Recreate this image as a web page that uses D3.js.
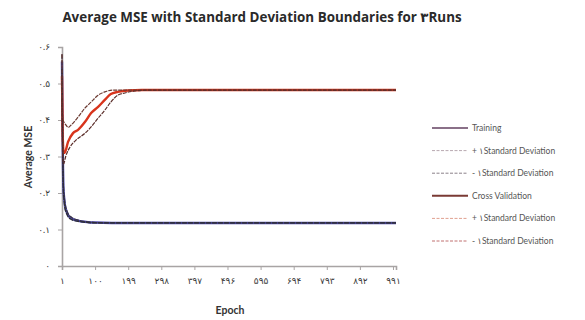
<!DOCTYPE html>
<html>
<head>
<meta charset="utf-8">
<script src="https://cdn.jsdelivr.net/npm/d3@7"></script>
<style>
  html, body { margin: 0; padding: 0; background: #fff; }
  svg { display: block; }
  text { font-family: Lato, "DejaVu Sans", sans-serif; }
</style>
</head>
<body>
<svg id="chart" width="585" height="320"></svg>
<script>
// Average MSE per epoch (mean of 3 runs) with +/- 1 standard deviation bounds
const trainEpochs = [1, 2, 3, 4, 5, 7, 10, 15, 20, 30, 45, 60, 80, 100, 150, 1000];
const trainMean   = [0.56, 0.45, 0.35, 0.27, 0.22, 0.19, 0.165, 0.148, 0.138, 0.13, 0.125, 0.122, 0.12, 0.119, 0.118, 0.118];
const trainPlus   = [0.58, 0.47, 0.37, 0.285, 0.232, 0.198, 0.172, 0.153, 0.142, 0.133, 0.127, 0.123, 0.121, 0.119, 0.118, 0.118];
const trainMinus  = [0.54, 0.43, 0.33, 0.255, 0.208, 0.182, 0.158, 0.143, 0.134, 0.127, 0.123, 0.121, 0.119, 0.118, 0.118, 0.118];

const cvMeanEpochs = [1, 3, 6, 9, 19, 34, 49, 70, 88, 109, 129, 147, 168, 198, 240, 1000];
const cvMean       = [0.52, 0.36, 0.31, 0.31, 0.34, 0.364, 0.373, 0.395, 0.419, 0.436, 0.455, 0.471, 0.477, 0.481, 0.482, 0.482];
const cvPlusEpochs = [1, 2, 4, 10, 20, 28, 49, 70, 88, 109, 129, 153, 190, 1000];
const cvPlus       = [0.58, 0.42, 0.40, 0.39, 0.38, 0.386, 0.408, 0.433, 0.449, 0.468, 0.477, 0.482, 0.482, 0.482];
const cvMinusEpochs = [1, 3, 6, 12, 25, 43, 70, 88, 109, 129, 147, 168, 189, 215, 260, 1000];
const cvMinus       = [0.46, 0.30, 0.28, 0.30, 0.326, 0.345, 0.364, 0.381, 0.405, 0.427, 0.449, 0.468, 0.474, 0.479, 0.482, 0.482];

const xTickValues = [1, 100, 199, 298, 397, 496, 595, 694, 793, 892, 991];
const xTickLabels = ["۱", "۱۰۰", "۱۹۹", "۲۹۸", "۳۹۷", "۴۹۶", "۵۹۵", "۶۹۴", "۷۹۳", "۸۹۲", "۹۹۱"];
const yTickValues = [0, 0.1, 0.2, 0.3, 0.4, 0.5, 0.6];
const yTickLabels = ["۰", "۰.۱", "۰.۲", "۰.۳", "۰.۴", "۰.۵", "۰.۶"];

const seriesNames = ["Training", "+ ۱Standard Deviation", "- ۱Standard Deviation",
                     "Cross Validation", "+ ۱Standard Deviation", "- ۱Standard Deviation"];

const series = [
  { name: seriesNames[0], x: trainEpochs, y: trainMean,  color: "#4a46a8", width: 2.4, dash: null,  legend: "#8a7088" },
  { name: seriesNames[1], x: trainEpochs, y: trainPlus,  color: "#3a3448", width: 1.3, dash: "5,1", legend: "#b8a8b0" },
  { name: seriesNames[2], x: trainEpochs, y: trainMinus, color: "#2e2e36", width: 1.3, dash: "5,1", legend: "#8a8088" },
  { name: seriesNames[3], x: cvMeanEpochs,  y: cvMean,  color: "#d8341c", width: 2.4, dash: null,  legend: "#7a3a34" },
  { name: seriesNames[4], x: cvPlusEpochs,  y: cvPlus,  color: "#6a3830", width: 1.2, dash: "4,1", legend: "#e0a090" },
  { name: seriesNames[5], x: cvMinusEpochs, y: cvMinus, color: "#5a2c28", width: 1.2, dash: "4,1", legend: "#c07070" }
];

const svg = d3.select("#chart");

const x = d3.scaleLinear().domain([1, 1000]).range([62, 396]);
const y = d3.scaleLinear().domain([0, 0.6]).range([266, 47]);

// title
svg.append("text")
  .attr("x", 262).attr("y", 22)
  .attr("text-anchor", "middle")
  .attr("font-size", 13.4).attr("font-weight", "bold")
  .attr("fill", "#2a2a2a")
  .style("font-family", "'Open Sans', 'DejaVu Sans', sans-serif")
  .text("Average MSE with Standard Deviation Boundaries for ۳Runs");

// axes
const xAxis = svg.append("g")
  .attr("transform", `translate(0,${y(0)})`)
  .call(d3.axisBottom(x).tickValues(xTickValues)
    .tickFormat((d, i) => xTickLabels[i]).tickSize(4).tickPadding(8));
const yAxis = svg.append("g")
  .attr("transform", `translate(${x(1)},0)`)
  .call(d3.axisLeft(y).tickValues(yTickValues)
    .tickFormat((d, i) => yTickLabels[i]).tickSize(4).tickPadding(8));

[xAxis, yAxis].forEach(g => {
  g.select(".domain").attr("stroke", "#a8a4a4").attr("stroke-width", 1.6);
  g.selectAll(".tick line").attr("stroke", "#a8a4a4");
  g.selectAll(".tick text").attr("fill", "#3a3a3a").attr("font-size", 9)
    .style("font-family", "Lato, 'DejaVu Sans', sans-serif");
});

// axis titles
svg.append("text")
  .attr("x", 230).attr("y", 314)
  .attr("text-anchor", "middle")
  .attr("font-size", 10.5).attr("font-weight", "bold").attr("fill", "#333")
  .text("Epoch");
svg.append("text")
  .attr("transform", "translate(32,157) rotate(-90)")
  .attr("text-anchor", "middle")
  .attr("font-size", 10.5).attr("font-weight", "bold").attr("fill", "#333")
  .text("Average MSE");

// series lines: means first, boundaries on top
const line = d3.line().curve(d3.curveMonotoneX);
const order = [0, 3, 1, 2, 4, 5];
order.forEach(i => {
  const s = series[i];
  svg.append("path")
    .attr("d", line(s.x.map((e, k) => [x(e), y(s.y[k])])))
    .attr("fill", "none")
    .attr("stroke", s.color)
    .attr("stroke-width", s.width)
    .attr("stroke-dasharray", s.dash);
});

// legend
const legend = svg.append("g");
series.forEach((s, i) => {
  const ly = 128 + i * 22.6;
  legend.append("line")
    .attr("x1", 432).attr("x2", 468).attr("y1", ly).attr("y2", ly)
    .attr("stroke", s.legend).attr("stroke-width", s.dash ? 1 : 2)
    .attr("stroke-dasharray", s.dash ? "3,1.5" : null);
  legend.append("text")
    .attr("x", 472).attr("y", ly + 3)
    .attr("font-size", 8.5).attr("fill", "#555")
    .text(s.name);
});
</script>
</body>
</html>
